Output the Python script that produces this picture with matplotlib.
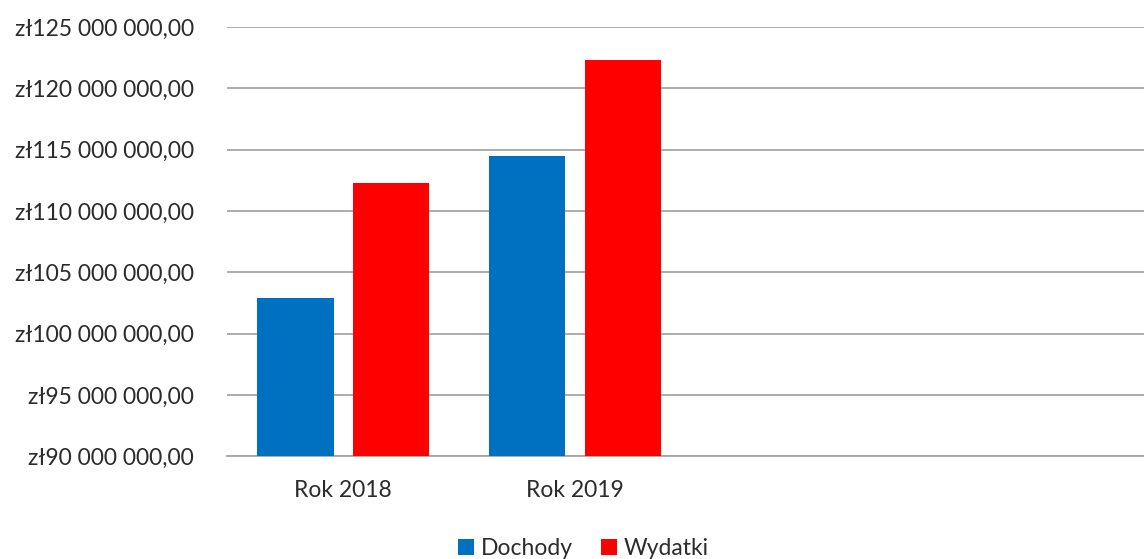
import matplotlib
matplotlib.use("Agg")
import matplotlib.pyplot as plt
from matplotlib.ticker import FuncFormatter
import numpy as np

categories = ["Rok 2018", "Rok 2019", "", ""]
dochody = [102_900_000, 114_500_000]
wydatki = [112_300_000, 122_300_000]
series_names = ["Dochody", "Wydatki"]
colors = ["#0070C0", "#FF0000"]
y_ticks = list(range(90_000_000, 125_000_001, 5_000_000))

plt.rcParams['font.family'] = ['Lato', 'DejaVu Sans']

fig = plt.figure(figsize=(11.44, 5.59), dpi=100)
ax = fig.add_axes([0.1987, 0.1834, 0.8013, 0.9517 - 0.1834])

x = np.arange(len(categories))
w = 0.331
off = 0.207
ax.bar(x[:len(dochody)] - off, dochody, width=w, color=colors[0], label=series_names[0], zorder=3)
ax.bar(x[:len(wydatki)] + off, wydatki, width=w, color=colors[1], label=series_names[1], zorder=3)

ax.set_ylim(y_ticks[0], y_ticks[-1])
ax.set_xlim(-0.5, 3.456)
ax.set_yticks(y_ticks)

def fmt(v, pos):
    s = f"{int(round(v)):,}".replace(",", " ")
    return "zł" + s + ",00"

ax.yaxis.set_major_formatter(FuncFormatter(fmt))
ax.set_xticks(x)
ax.set_xticklabels(categories)

ax.grid(axis='y', color='#a6a6a6', linewidth=1.3, zorder=0)
ax.set_axisbelow(True)
for s in ['top', 'right', 'left']:
    ax.spines[s].set_visible(False)
ax.spines['bottom'].set_color('#a6a6a6')
ax.spines['bottom'].set_linewidth(1.3)
ax.tick_params(axis='y', length=0, pad=24, labelsize=16.5, labelcolor='#2b2b2b')
ax.tick_params(axis='x', length=0, pad=17, labelsize=16.5, labelcolor='#2b2b2b')

fig.legend(loc='lower center', bbox_to_anchor=(0.51, -0.037), ncol=2, frameon=False,
           fontsize=16.5, handlelength=0.7, handleheight=0.7, handletextpad=0.3,
           columnspacing=1.2, labelcolor='#2b2b2b')

fig.savefig("out.png", dpi=100)
